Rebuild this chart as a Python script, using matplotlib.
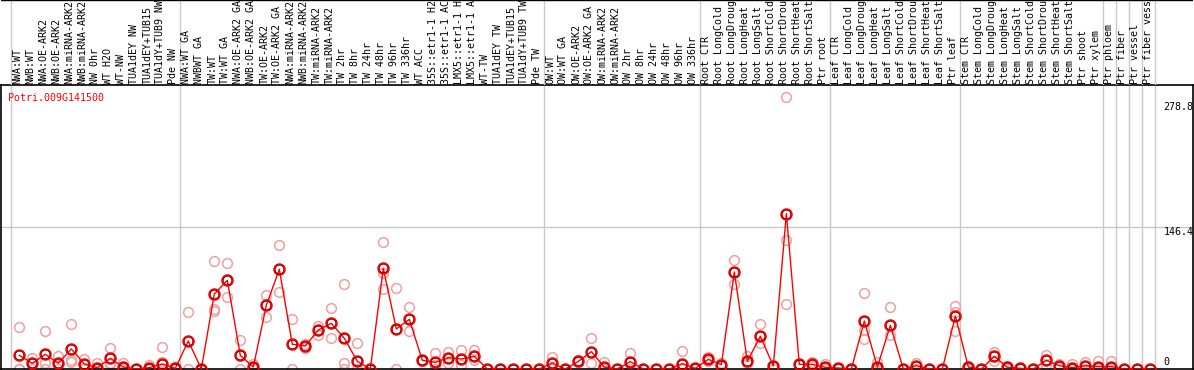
import matplotlib.pyplot as plt

gene = "Potri.009G141500"

labels = [
    "NWA:WT", "NWB:WT", "NWA:OE-ARK2", "NWB:OE-ARK2", "NWA:miRNA-ARK2", "NWB:miRNA-ARK2",
    "NW 0hr", "WT H2O", "WT-NW", "TUA1dEY NW", "TUA1dEY+TUB15", "TUA1dY+TUB9 NW", "Pde NW",
    "NWA:WT GA", "NWBWT GA", "TW:WT", "TW:WT GA", "NWA:OE-ARK2 GA", "NWB:OE-ARK2 GA",
    "TW:OE-ARK2", "TW:OE-ARK2 GA", "NWA:miRNA-ARK2", "NWB:miRNA-ARK2", "TW:miRNA-ARK2",
    "TW:miRNA-ARK2", "TW 2hr", "TW 8hr", "TW 24hr", "TW 48hr", "TW 96hr", "TW 336hr",
    "WT ACC", "35S::etr1-1 H2", "35S::etr1-1 AC", "LMX5::etr1-1 H", "LMX5::etr1-1 A",
    "WT-TW", "TUA1dEY TW", "TUA1dEY+TUB15", "TUA1dY+TUB9 TW", "Pde TW",
    "OW:WT", "OW:WT GA", "OW:OE-ARK2", "OW:OE-ARK2 GA", "OW:miRNA-ARK2", "OW:miRNA-ARK2",
    "OW 2hr", "OW 8hr", "OW 24hr", "OW 48hr", "OW 96hr", "OW 336hr",
    "Root CTR", "Root LongCold", "Root LongDroug", "Root LongHeat", "Root LongSalt",
    "Root ShortCold", "Root ShortDrou", "Root ShortHeat", "Root ShortSalt", "Ptr root",
    "Leaf CTR", "Leaf LongCold", "Leaf LongDroug", "Leaf LongHeat", "Leaf LongSalt",
    "Leaf ShortCold", "Leaf ShortDrou", "Leaf ShortHeat", "Leaf ShortSalt", "Ptr leaf",
    "Stem CTR", "Stem LongCold", "Stem LongDroug", "Stem LongHeat", "Stem LongSalt",
    "Stem ShortCold", "Stem ShortDrou", "Stem ShortHeat", "Stem ShortSalt", "Ptr shoot",
    "Ptr xylem", "Ptr phloem", "Ptr fiber", "Ptr vessel", "Ptr fiber vessel",
]

means = [
    14.1, 5.9, 15.2, 5.9, 20.7, 5.2, 1.4, 11.0, 2.0, 0, 1.4, 5.2, 0.7,
    28.9, 0, 77.5, 91.6, 14.1, 2.0, 65.8, 103.0, 25.5, 23.8, 40.3, 47.2, 31.7, 7.9, 0,
    104.0, 41.3, 51.3, 9.0, 6.9, 11.7, 10.3, 13.1, 0, 0, 0, 0, 0,
    6.2, 0, 7.9, 17.9, 2.0, 0, 7.6, 0, 0, 0, 5.5, 0.7,
    10.0, 4.5, 100.2, 7.9, 33.8, 3.1, 160.4, 4.8, 4.8, 1.7,
    1.0, 0, 49.6, 2.0, 45.1, 0, 3.4, 0, 0, 54.8,
    2.0, 0, 13.1, 1.7, 0.7, 0, 9.0, 3.4, 1.4, 3.4,
    2.4, 2.4, 0, 0, 0,
]

reps = [
    [43, 0, 0], [11.7, 6, 0], [39.3, 5.9, 0], [13.4, 4, 0], [46.1, 6.9, 9], [10.7, 5, 0],
    [6.5, 0], [21.7, 4.8, 6.5], [6.5, 0], [0, 0], [3.8, 0], [22.7, 7.6, 0], [2, 0],
    [58.6, 0], [0, 0], [111.2, 61.7, 59.6], [109.2, 74.1], [30, 0], [4.8, 0],
    [76.1, 54], [128.1, 79.5], [51.3, 0], [26, 22], [44.4, 35.1], [62.7, 31.7],
    [87.5, 6.5, 0], [26.5, 0], [0], [131.5, 98.9, 82.3], [83.4, 0], [63.7, 39.6],
    [9.6, 8.5], [16.2, 4.5, 0], [17.6, 6.5], [19.6, 3.8], [19.6, 9.3],
    [0], [0], [0], [0], [0],
    [12.7, 0], [0], [9, 7], [31.7, 5.9], [7.6, 0], [0], [16.2, 0], [0], [0], [0],
    [18.2, 0], [0],
    [12, 8], [5.9, 3], [112.3, 87.5], [13, 5.9], [46.1, 26.5], [0], [281, 133.3, 66.8],
    [5.5, 4], [7.2, 3], [5.2, 0],
    [1.5, 0], [0], [78.5, 40, 31], [7.6, 0], [63.7, 35.1], [0], [5.9, 0], [0], [0],
    [65.1, 59, 39.6],
    [3.4, 0], [0], [17.6, 8.6], [3.4, 0], [1.5, 0], [0], [14.1, 4], [5.2, 1], [5.5, 0],
    [7.6, 0],
    [8.6, 0], [8.6, 0], [0], [0], [0],
]

# last index of each group (grid line drawn just after it)
group_ends = [-1, 12, 40, 52, 62, 72, 83, 84, 85, 86, 87]
ytick_vals = [0, 146.4, 278.8]
ytick_text = ["0", "146.4", "278.8"]
ytick_shift = [7, -5, -8]   # pixel nudge of each label

W, H = 1194, 370
fig = plt.figure(figsize=(W / 100, H / 100), dpi=100)
mono = "DejaVu Sans Mono"
fs = 7.2

x0, x1 = -1.408, 90.28
ax = fig.add_axes([1 / W, 1 / H, 1192 / W, 284 / H])
top = fig.add_axes([1 / W, 285 / H, 1192 / W, 85 / H])

xs = list(range(len(means)))

for g in group_ends:
    ax.axvline(g + 0.36, color="#c8c8c8", lw=1, zorder=0)
    top.axvline(g + 0.36, color="#c8c8c8", lw=1, zorder=0)
ax.axhline(146.4, color="#c8c8c8", lw=1, zorder=0)

for i, r in enumerate(reps):
    ax.plot([i] * len(r), r, "o", ms=7, mfc="none", mec="#f0a0a0", mew=1.1,
            clip_on=False, zorder=2)

ax.plot(xs, means, "-", color="red", lw=1, zorder=3)
ax.plot(xs, means, "o", ms=7.5, mfc="none", mec="red", mew=1.5, zorder=4)
ax.plot(xs, means, "o", ms=6.2, mfc="none", mec="#600000", mew=0.5, zorder=5)

ax.set_xlim(x0, x1)
ax.set_ylim(0, 293.4)
ax.set_xticks([])
ax.set_yticks([])
for s in ax.spines.values():
    s.set_color("black")
    s.set_linewidth(1.2)

ax.text(0.006, 0.955, gene, transform=ax.transAxes, color="red", fontsize=fs,
        family=mono, va="center", ha="left")

for v, t, dy in zip(ytick_vals, ytick_text, ytick_shift):
    ax.annotate(t, (88.0, v), xytext=(0, dy), textcoords="offset pixels",
                fontsize=fs, family=mono, va="center", ha="left", color="black")

top.set_xlim(x0, x1)
top.set_ylim(0, 85)
top.axis("off")
top.axhline(85, color="black", lw=1)
for i, lab in enumerate(labels):
    top.text(i - 0.15, 1.5, lab, rotation=90, fontsize=fs, family=mono,
             ha="center", va="bottom", color="black", clip_on=True)

fig.savefig("out.png", dpi=100)
